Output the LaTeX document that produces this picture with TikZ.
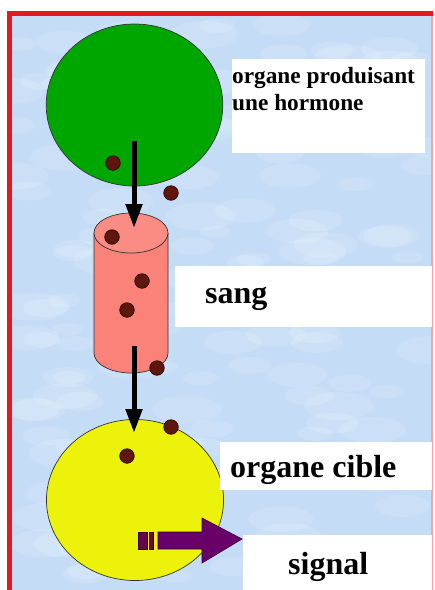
\documentclass[tikz,border=0pt]{standalone}
\usepackage{fontspec}
\setmainfont{Liberation Serif}
\usetikzlibrary{arrows.meta}
\definecolor{ciel}{RGB}{196,220,246}
\definecolor{cadre}{RGB}{230,25,35}
\definecolor{vert}{RGB}{0,166,0}
\definecolor{saumon}{RGB}{250,130,120}
\definecolor{jaune}{RGB}{236,242,10}
\definecolor{brun}{RGB}{95,22,12}
\definecolor{violet}{RGB}{105,0,105}
\tikzset{
  hormone/.style={fill=brun,draw=black!70!brun,line width=0.6pt},
  organe/.style={draw=black!80,line width=0.7pt},
  flux/.style={line width=5pt,-{Triangle[width=16pt,length=24pt]}},
  boite/.style={fill=white,inner sep=0pt,anchor=north west},
  petit/.style={font=\bfseries\fontsize{23.3}{27}\selectfont,inner sep=0pt,anchor=base west},
  grand/.style={font=\bfseries\fontsize{32}{36}\selectfont,inner sep=0pt,anchor=base west},
}
\begin{document}
\begin{tikzpicture}[x=1pt,y=-1pt]
  \useasboundingbox (0,0) rectangle (435,590);
  % fond nuageux
  \fill[ciel] (12,16) rectangle (432,590);
  \begin{scope}
    \clip (12,16) rectangle (432,590);
    \pgfmathsetseed{7}
    \foreach \i in {1,...,160} {
      \pgfmathsetmacro\cx{12+rnd*420}
      \pgfmathsetmacro\cy{16+rnd*574}
      \pgfmathsetmacro\rx{14+rnd*22}
      \fill[white,opacity=0.13] (\cx,\cy) ellipse [x radius=\rx, y radius=0.4*\rx];
    }
  \end{scope}
  % cadre
  \fill[cadre] (7,11) rectangle (433,16);
  \fill[cadre] (7,11) rectangle (12,590);
  \draw[cadre!40,line width=1.2pt] (432,16) -- (432,590);

  % organe producteur
  \node[organe,fill=vert,circle,minimum size=162pt,xscale=1.09,inner sep=0pt] (prod) at (134.5,105) {};
  % sang
  \filldraw[organe,fill=saumon] (94,233) -- (94,353)
    arc[start angle=180,end angle=0,x radius=37,y radius=20] -- (168,233);
  \filldraw[organe,fill=saumon!92!white] (131,233) ellipse [x radius=37, y radius=20];
  \coordinate (sangtop) at (134,228);
  \coordinate (sangout) at (134,346);
  % organe cible
  \node[organe,fill=jaune,circle,minimum size=161pt,xscale=1.1,inner sep=0pt] (cible) at (135,500) {};
  \coordinate (prodout) at (134,141);
  \coordinate (cibletop) at (134,433);

  % fleches
  \draw[flux] (prodout) -- (sangtop);
  \draw[flux] (sangout) -- (cibletop);

  % hormones
  \foreach \x/\y in {113/163,171/193,112/237,142/281,127/310,157/368,171/427,127/456}
    \filldraw[hormone] (\x,\y) circle (7.3);

  % signal
  \filldraw[fill=violet!70!brun,draw=violet!50!black,line width=0.6pt]
    (138,532) rectangle (147,549) (149,532) rectangle (153,549);
  \filldraw[fill=violet,draw=violet!50!black,line width=0.6pt]
    (158,532) -- (202,532) -- (202,518) -- (242,539) -- (202,563)
    -- (202,549) -- (158,549) -- cycle;

  % textes
  \node[boite,minimum width=193pt,minimum height=94pt] (boxprod) at (232,59) {};
  \node[petit] (txtprod) at (232,83) {organe produisant};
  \node[petit] (txthorm) at (232,110) {une hormone};
  \node[boite,minimum width=257pt,minimum height=61pt] (boxsang) at (175,266) {};
  \node[grand] (txtsang) at (205,303) {sang};
  \node[boite,minimum width=212pt,minimum height=48pt] (boxcible) at (220,442) {};
  \node[grand] (txtcible) at (230,477) {organe cible};
  \node[boite,minimum width=189pt,minimum height=56pt] (boxsig) at (243,535) {};
  \node[grand] (txtsig) at (288,574) {signal};
\end{tikzpicture}
\end{document}
